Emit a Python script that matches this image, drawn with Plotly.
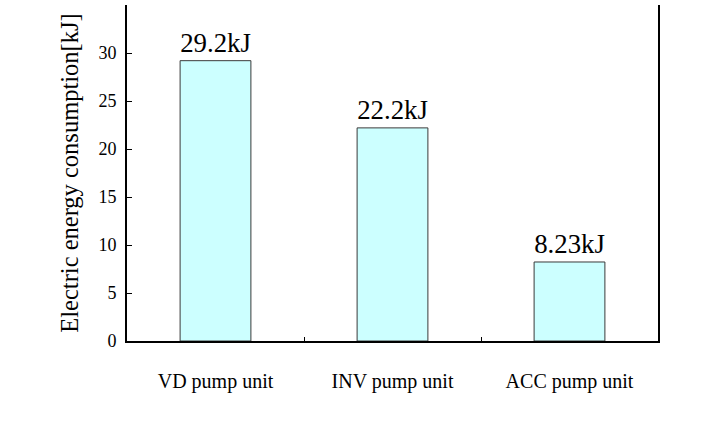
import plotly.graph_objects as go

categories = ["VD pump unit", "INV pump unit", "ACC pump unit"]
energy_kj = [29.2, 22.2, 8.23]
bar_labels = ["29.2kJ", "22.2kJ", "8.23kJ"]
y_ticks = [0, 5, 10, 15, 20, 25, 30, 35]

SERIF = "Liberation Serif"

fig = go.Figure(
    go.Bar(
        x=categories,
        y=energy_kj,
        text=bar_labels,
        textposition="outside",
        textfont=dict(family=SERIF, size=27, color="black"),
        cliponaxis=False,
        width=0.4,
        marker=dict(color="#CCFFFF", line=dict(color="#3a3a3a", width=1)),
    )
)

fig.update_layout(
    width=702,
    height=425,
    margin=dict(l=127, r=44, t=5, b=84),
    paper_bgcolor="white",
    plot_bgcolor="white",
    showlegend=False,
    font=dict(family=SERIF, color="black"),
)

fig.update_xaxes(
    showline=True,
    linecolor="black",
    linewidth=2,
    ticks="inside",
    ticklen=4,
    tickcolor="black",
    tickson="boundaries",
    tickfont=dict(family=SERIF, size=20, color="black"),
    ticklabelstandoff=21,
    showgrid=False,
)

fig.update_yaxes(
    range=[0, 35],
    tickvals=y_ticks,
    showline=True,
    linecolor="black",
    linewidth=2,
    mirror=True,
    ticks="inside",
    ticklen=5,
    tickcolor="black",
    tickfont=dict(family=SERIF, size=18, color="black"),
    ticklabelstandoff=5,
    showgrid=False,
    zeroline=False,
    title=dict(
        text="Electric energy consumption[kJ]",
        font=dict(family=SERIF, size=24.5, color="black"),
        standoff=13,
    ),
)

fig.write_html("out.html")
